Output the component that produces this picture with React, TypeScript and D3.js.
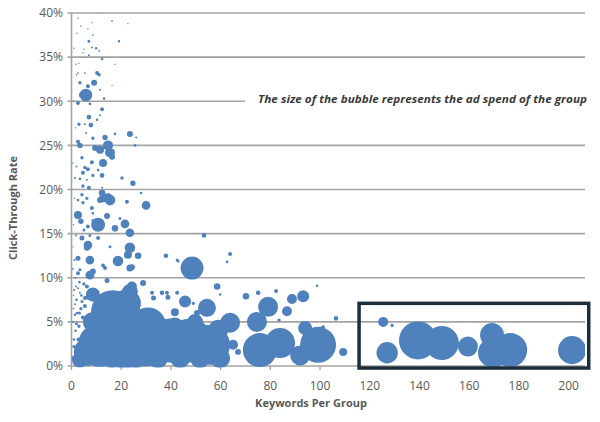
import React from "react";
import * as d3 from "d3";

type Pt = [number, number, number]; // [keywords per group, CTR %, ad spend]

const xTicks = [0, 20, 40, 60, 80, 100, 120, 140, 160, 180, 200];
const yTicks = [0, 5, 10, 15, 20, 25, 30, 35, 40];
const xTitle = "Keywords Per Group";
const yTitle = "Click-Through Rate";
const note = "The size of the bubble represents the ad spend of the group";

const sparseHighCtr: Pt[] = [
  [12.1, 40.0, 0.8], [2.6, 39.4, 0.8], [16.3, 39.1, 1.2], [8.2, 38.9, 0.8], [3.8, 38.5, 0.8],
  [22.7, 38.8, 0.8], [6.6, 38.2, 0.8], [2.2, 37.7, 0.8], [8.6, 37.5, 1.2], [19.1, 36.8, 2.4],
  [7.0, 36.8, 3.6], [8.2, 36.1, 1.6], [9.9, 36.0, 2.7], [5.0, 35.9, 0.8], [11.1, 35.7, 1.2],
  [4.6, 35.5, 0.8], [7.0, 35.2, 1.6], [12.3, 34.8, 2.7], [17.5, 34.2, 0.8], [1.8, 34.2, 0.8],
  [3.0, 34.3, 0.8], [10.3, 33.2, 6.4], [11.1, 33.0, 4.6], [2.6, 33.2, 1.2], [5.4, 33.2, 1.2],
  [9.1, 32.1, 14.4], [3.4, 32.1, 4.6], [6.6, 31.7, 6.4], [5.8, 30.7, 65], [4.2, 30.7, 14],
  [11.5, 31.3, 1.6], [16.3, 31.8, 0.8], [13.1, 30.3, 2.7], [2.6, 29.8, 6.4], [7.4, 29.7, 2.7],
  [12.3, 29.1, 6.4], [7.0, 28.2, 8.5], [11.5, 28.4, 1.6], [7.8, 27.3, 8.5], [3.0, 27.4, 4.6],
  [10.3, 27.9, 2.7], [5.4, 27.4, 1.6],
  [23.5, 26.3, 14.4], [13.5, 25.9, 11.7], [17.5, 26.3, 2.7], [8.6, 25.8, 4.6], [5.8, 26.4, 1.6],
  [26.0, 25.9, 1.6], [25.6, 25.0, 2.7],
  [14.7, 25.0, 40], [15.5, 24.2, 40], [11.5, 24.5, 25.6], [9.5, 24.7, 14.4], [16.3, 23.7, 14.4],
  [12.7, 23.0, 25.6], [8.2, 23.1, 6.4], [3.4, 25.0, 11.7], [2.6, 25.4, 6.4],
  [4.2, 23.6, 4.6], [5.4, 22.5, 4.6], [6.6, 22.3, 6.4], [4.6, 21.9, 6.4], [8.6, 21.6, 4.6],
  [12.3, 21.6, 8.5], [3.4, 21.2, 2.7], [10.7, 22.2, 2.7], [6.2, 21.1, 1.6], [20.3, 21.3, 4.6],
  [24.7, 20.7, 11.7], [1.4, 21.3, 1.6], [12.3, 20.2, 1.6], [4.6, 20.4, 4.6], [7.0, 20.2, 6.4],
  [4.2, 19.4, 4.6], [6.2, 19.0, 4.6], [2.6, 18.8, 2.7], [4.6, 18.5, 4.6], [28.0, 19.6, 2.7],
  [12.3, 19.6, 17.4], [12.7, 19.0, 25.6], [14.7, 19.0, 40], [15.5, 18.8, 45], [11.5, 18.8, 14.4],
  [22.3, 18.6, 6.4], [30.0, 18.2, 30], [8.2, 17.9, 6.4], [8.6, 17.3, 2.7], [2.6, 17.1, 25.6],
  [14.3, 17.0, 14.4], [3.8, 16.4, 11.7], [8.6, 16.5, 3.6], [10.7, 16.0, 78], [17.5, 15.6, 17.4],
  [21.5, 16.1, 30], [23.5, 15.1, 30], [6.6, 15.8, 6.4], [5.0, 15.4, 3.6], [19.5, 16.7, 3.6],
  [4.2, 14.5, 10], [7.4, 14.8, 3.6], [10.7, 14.5, 6.4], [6.6, 13.7, 30], [6.2, 13.4, 14.4],
  [15.5, 13.5, 3.6], [23.5, 13.4, 45], [22.7, 12.6, 25.6], [26.8, 12.5, 17.4], [38.0, 12.5, 8.5],
  [18.7, 11.9, 45], [7.4, 12.0, 30], [2.6, 12.2, 10], [12.7, 11.4, 6.4], [24.3, 11.2, 14.4],
  [42.5, 12.0, 3.6], [53.3, 14.8, 8.5], [63.8, 12.7, 6.4], [62.6, 11.8, 2.7], [48.5, 11.1, 210],
  [42.9, 11.9, 3.6],
];

const midCtr: Pt[] = [
  [23.5, 11.1, 19.6], [14.3, 9.7, 10], [7.4, 10.3, 32], [8.6, 10.7, 14.4], [13.5, 11.1, 6.4],
  [2.6, 10.5, 6.4], [3.4, 10.9, 3.6], [24.3, 9.0, 40], [23.5, 8.4, 100], [28.8, 9.4, 14.4],
  [32.4, 8.3, 6.4], [36.4, 8.3, 8.5], [38.8, 7.8, 10], [38.4, 8.3, 6.4], [33.0, 7.7, 10],
  [8.6, 8.4, 14.4], [8.6, 8.1, 78], [6.6, 7.8, 10], [5.4, 7.7, 6.4], [3.4, 8.3, 1.6],
  [42.5, 8.3, 6.4], [45.7, 7.3, 58], [41.6, 6.1, 25.6], [50.5, 6.0, 14.4],
  [58.6, 9.0, 17.4], [59.8, 8.1, 2.7], [70.2, 7.9, 17.4], [75.1, 8.3, 8.5], [82.3, 8.5, 6.4],
  [93.2, 7.9, 58], [88.7, 7.6, 40], [98.8, 9.1, 2.7], [86.7, 6.2, 40], [79.1, 6.7, 160],
  [54.5, 6.6, 130], [49.0, 7.1, 4.6], [63.8, 4.9, 160], [74.6, 5.0, 160], [83.5, 5.2, 4.6],
  [94.0, 4.3, 78], [106.4, 5.4, 8.5], [101.2, 4.4, 6.4], [109.3, 1.6, 25.6], [65.0, 2.4, 40],
  [67.0, 1.6, 14],
];

const lowCtrCore: Pt[] = [
  [3.4, 0.7, 102], [6.6, 1.6, 314], [11.5, 2.4, 774], [16.7, 6.1, 774], [22.3, 7.1, 314],
  [8.6, 5.0, 160], [21.5, 2.4, 922], [29.6, 2.9, 1082], [30.8, 4.6, 518], [39.6, 2.9, 774],
  [47.7, 2.9, 774], [55.7, 2.4, 640], [41.6, 4.6, 102], [49.7, 5.0, 102], [59.0, 4.1, 160],
  [16.3, 0.9, 160], [26.0, 0.9, 160], [34.8, 0.9, 160], [43.7, 0.9, 160], [51.7, 0.9, 160],
  [59.8, 0.9, 160],
  [75.8, 1.8, 462], [83.9, 2.6, 360], [99.2, 2.4, 518], [92.0, 1.2, 160],
];

const edgeDots: Pt[] = [
  [0.6, 5.0, 1.6], [1.0, 3.0, 2.7], [1.4, 7.0, 1.6], [2.2, 6.0, 2.7], [3.0, 4.5, 4.6],
  [1.8, 9.0, 1.6], [0.8, 8.0, 0.8], [3.8, 6.5, 4.6], [4.6, 5.5, 6.4], [2.4, 2.0, 6.4],
  [0.4, 1.0, 1.6], [1.2, 12.0, 1.6], [0.8, 16.0, 0.8], [1.2, 19.0, 0.8], [0.6, 23.0, 0.8],
  [1.6, 27.0, 0.8], [0.8, 30.0, 0.8], [2.0, 33.0, 0.8], [1.0, 36.0, 0.8], [1.6, 10.0, 1.6],
  [0.6, 13.5, 0.8], [1.8, 14.8, 1.6], [2.0, 22.6, 1.6], [3.2, 9.5, 2.7], [0.6, 11.0, 1.2],
  [4.2, 7.3, 3.6], [5.0, 9.3, 4.6], [6.2, 9.0, 6.4], [2.8, 3.0, 6.4], [1.6, 4.0, 2.7],
  [1.0, 8.6, 1.6], [2.0, 7.5, 2.7], [2.6, 8.8, 1.6], [1.4, 5.8, 2.7], [3.2, 6.0, 3.6],
  [4.0, 8.0, 2.7], [0.8, 6.5, 1.2], [2.0, 4.8, 3.6], [5.4, 6.8, 6.4], [1.0, 2.2, 4.6],
  [1.8, 1.2, 6.4],
];

const highSpendLongGroups: Pt[] = [
  [125.4, 5.0, 40], [129, 4.6, 4.6], [127, 1.5, 183], [139.4, 2.9, 578], [149, 2.6, 462],
  [159.5, 2.2, 160], [169.2, 3.5, 230], [169.6, 1.5, 360], [176.5, 1.8, 462], [201.4, 1.8, 314],
];

const highlight = { x0: 115.7, x1: 208.1, y0: -0.23, y1: 7.1 };

const BLUE = "#4f81bd";
const GRID = "#a3a3a3";
const TEXT = "#595959";
const FONT = "'Open Sans', 'DejaVu Sans', sans-serif";

export default function App() {
  const W = 600, H = 422;
  const x = d3.scaleLinear().domain([0, 206.6]).range([71.5, 585]);
  const y = d3.scaleLinear().domain([0, 40]).range([366, 13]);
  const r = d3.scaleSqrt().domain([0, 1000]).range([0, 25]);
  const all = [...edgeDots, ...sparseHighCtr, ...midCtr, ...lowCtrCore, ...highSpendLongGroups];
  const [px0, px1] = x.range();
  const [py0, py1] = y.range();

  // one path of all bubbles so that overlapping bubbles merge without seams
  const p = d3.path();
  all.forEach((d) => {
    const cx = x(d[0]), cy = y(d[1]), rr = r(d[2]);
    p.moveTo(cx + rr, cy);
    p.arc(cx, cy, rr, 0, 2 * Math.PI);
    p.closePath();
  });

  return (
    <svg width={W} height={H} style={{ position: "absolute", left: 0, top: 0, background: "#fff" }}>
      <defs>
        <clipPath id="plot">
          <rect x={px0} y={py1} width={px1 - px0} height={py0 - py1 + 1.5} />
        </clipPath>
      </defs>
      {yTicks.filter((t) => t > 0).map((t) => (
        <line key={"g" + t} x1={px0 - 4} x2={px1} y1={y(t)} y2={y(t)} stroke={GRID} strokeWidth={1.6} />
      ))}
      <line x1={px0} x2={px0} y1={py1} y2={py0} stroke={GRID} strokeWidth={1.6} />
      <line x1={px0 - 4} x2={px1} y1={py0} y2={py0} stroke={GRID} strokeWidth={1.6} />
      {xTicks.map((t) => (
        <line key={"xt" + t} x1={x(t)} x2={x(t)} y1={py0} y2={py0 + 4} stroke={GRID} strokeWidth={1.3} />
      ))}
      <g clipPath="url(#plot)">
        <path d={p.toString()} fill={BLUE} fillRule="nonzero" />
      </g>
      <rect x={245} y={90} width={350} height={19} fill="#fff" />
      <text x={258} y={103} fontFamily={FONT} fontStyle="italic" fontWeight="bold" fontSize={10.5}
        fill="#3a3a3a" textLength={329} lengthAdjust="spacingAndGlyphs">{note}</text>
      <rect x={x(highlight.x0)} y={y(highlight.y1)} width={x(highlight.x1) - x(highlight.x0)}
        height={y(highlight.y0) - y(highlight.y1)} fill="none" stroke="#1d2e3b" strokeWidth={3.5} />
      {yTicks.map((t) => (
        <text key={"yl" + t} x={63} y={y(t)} dy="0.36em" textAnchor="end" fontFamily={FONT}
          fontSize={12} fill={TEXT}>{t + "%"}</text>
      ))}
      {xTicks.map((t) => (
        <text key={"xl" + t} x={x(t)} y={390} textAnchor="middle" fontFamily={FONT}
          fontSize={12} fill={TEXT}>{t}</text>
      ))}
      <text x={311} y={407} textAnchor="middle" fontFamily={FONT} fontWeight="bold" fontSize={11}
        fill={TEXT}>{xTitle}</text>
      <text transform="translate(16.5,208) rotate(-90)" textAnchor="middle" fontFamily={FONT}
        fontWeight="bold" fontSize={11} fill={TEXT}>{yTitle}</text>
    </svg>
  );
}
